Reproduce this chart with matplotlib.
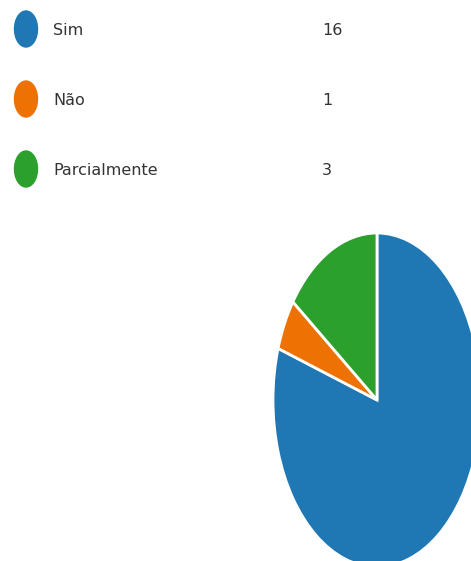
import matplotlib.pyplot as plt
from matplotlib.patches import Ellipse

labels = ["Sim", "Não", "Parcialmente"]
counts = [16, 1, 3]
colors = ["#1f77b4", "#ee7203", "#2ca02c"]

W, H = 471, 561
fig = plt.figure(figsize=(W / 100, H / 100), dpi=100)

# pie, stretched vertically like the screenshot
pie_ax = fig.add_axes([273 / W, (H - 567) / H, 208 / W, 334 / H])
pie_ax.pie(counts, colors=colors, startangle=90, counterclock=False,
           wedgeprops=dict(edgecolor="white", linewidth=2))
pie_ax.set_aspect("auto")
pie_ax.set_xlim(-1, 1)
pie_ax.set_ylim(-1, 1)

# legend drawn in pixel coordinates
leg = fig.add_axes([0, 0, 1, 1])
leg.set_xlim(0, W)
leg.set_ylim(H, 0)
leg.axis("off")
leg.patch.set_alpha(0)
font = dict(family="DejaVu Sans", fontsize=11.5,
            color="#333333", va="center", ha="left")
for i, (lab, n, c) in enumerate(zip(labels, counts, colors)):
    y = 29 + i * 70
    leg.add_patch(Ellipse((26, y), 23, 36, color=c))
    leg.text(53, y + 1, lab, **font)
    leg.text(322, y + 1, str(n), **font)

fig.savefig("out.png", dpi=100)
